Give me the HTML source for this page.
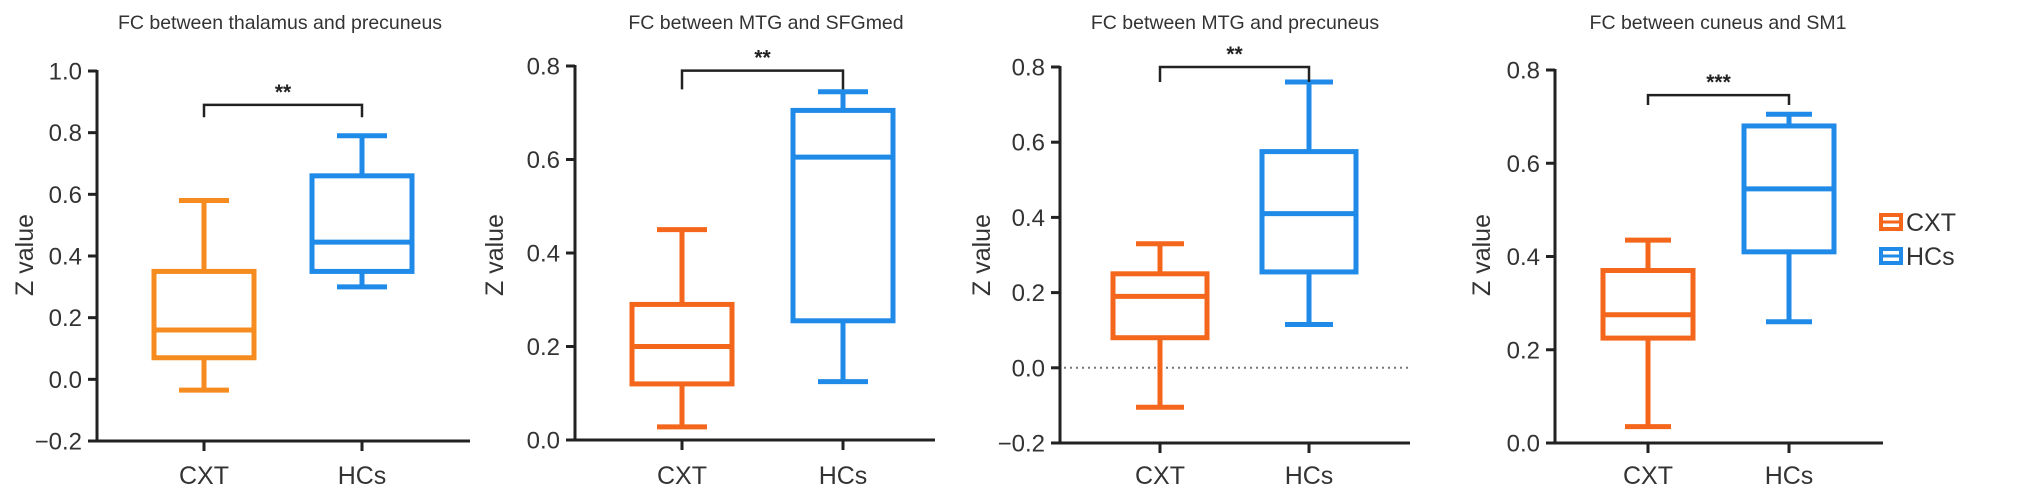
<!DOCTYPE html>
<html><head><meta charset="utf-8"><style>
html,body{margin:0;padding:0;background:#fff;}
svg{display:block;font-family:"Liberation Sans",Arial,sans-serif;}
</style></head><body>
<svg id="fig" width="2032" height="496" viewBox="0 0 2032 496"></svg>
<script>
const titles = ["FC between thalamus and precuneus","FC between MTG and SFGmed","FC between MTG and precuneus","FC between cuneus and SM1"];
const categories = ["CXT","HCs"];
const stars = ["**","**","**","***"];
// [min,q1,median,q3,max]
const cxtStats = [[-0.035,0.07,0.16,0.35,0.58],[0.028,0.12,0.2,0.29,0.45],[-0.105,0.08,0.19,0.25,0.33],[0.035,0.225,0.275,0.37,0.435]];
const hcsStats = [[0.30,0.35,0.445,0.66,0.79],[0.125,0.255,0.605,0.705,0.745],[0.115,0.255,0.41,0.575,0.76],[0.26,0.41,0.545,0.68,0.705]];
const yMin = [-0.2,0,-0.2,0];
const yMax = [1.0,0.8,0.8,0.8];
const yTicks = [["−0.2","0.0","0.2","0.4","0.6","0.8","1.0"],["0.0","0.2","0.4","0.6","0.8"],["−0.2","0.0","0.2","0.4","0.6","0.8"],["0.0","0.2","0.4","0.6","0.8"]];
const tickValues = [[-0.2,0,0.2,0.4,0.6,0.8,1.0],[0,0.2,0.4,0.6,0.8],[-0.2,0,0.2,0.4,0.6,0.8],[0,0.2,0.4,0.6,0.8]];
const bracketTop = [0.89,0.79,0.8,0.746];
const bracketLeg = [0.85,0.75,0.76,0.725];
const zeroLine = [false,false,true,false];

const layout = [
 {ax:97,ay0:441,ay1:71,xEnd:470,cx:[204,362],hw:50,cap:25,tx:280,yt:25,orange:"#F68B1F"},
 {ax:575,ay0:440,ay1:66,xEnd:935,cx:[682,843],hw:50,cap:25,tx:766,yt:495,orange:"#F4661B"},
 {ax:1060,ay0:443,ay1:67,xEnd:1410,cx:[1160,1309],hw:47,cap:24,tx:1235,yt:982,orange:"#F4661B"},
 {ax:1555,ay0:443,ay1:70,xEnd:1883,cx:[1648,1789],hw:45,cap:23,tx:1718,yt:1482,orange:"#F4661B"}
];
const blue = "#1F8AE8";
const NS = "http://www.w3.org/2000/svg";
const svg = document.getElementById('fig');
function mk(tag, attrs, parent){const e=document.createElementNS(NS,tag);for(const k in attrs)e.setAttribute(k,attrs[k]);(parent||svg).appendChild(e);return e;}

for(let p=0;p<4;p++){
  const L=layout[p];
  const g=mk('g',{});
  
  
  const y=v=>L.ay0-(v-yMin[p])/(yMax[p]-yMin[p])*(L.ay0-L.ay1);
  const t=mk('text',{x:L.tx,y:29,'text-anchor':'middle','font-size':19.5,fill:'#333'},g);
  t.textContent=titles[p];
  
  
  const ya=mk('line',{x1:L.ax,y1:L.ay1-1,x2:L.ax,y2:L.ay0+1.5,stroke:'#222','stroke-width':3},g);
  
  
  const xa=mk('line',{x1:L.ax-1.5,y1:L.ay0,x2:L.xEnd,y2:L.ay0,stroke:'#222','stroke-width':3},g);
  
  
  for(let i=0;i<tickValues[p].length;i++){
    const yy=y(tickValues[p][i]);
    mk('line',{x1:L.ax-9,y1:yy,x2:L.ax,y2:yy,stroke:'#222','stroke-width':3},g);
    const tl=mk('text',{x:L.ax-15,y:yy+8.5,'text-anchor':'end','font-size':24,fill:'#333'},g);
    tl.textContent=yTicks[p][i];
    
    
  }
  const yt=mk('text',{x:L.yt,y:255,'text-anchor':'middle','font-size':25,fill:'#333',transform:`rotate(-90 ${L.yt} 255)`,'dominant-baseline':'central'},g);
  yt.textContent='Z value';
  
  
  if(zeroLine[p]){
    const zl=mk('line',{x1:L.ax+4,y1:y(0),x2:L.xEnd,y2:y(0),stroke:'#777','stroke-width':2,'stroke-dasharray':'2 4'},g);
    
    
  }
  const stats=[cxtStats[p],hcsStats[p]];
  const cols=[L.orange,blue];
  for(let c=0;c<2;c++){
    const x=L.cx[c], s=stats[c], col=cols[c];
    mk('line',{x1:x,y1:L.ay0,x2:x,y2:L.ay0+10,stroke:'#222','stroke-width':3},g);
    const cl=mk('text',{x:x,y:484,'text-anchor':'middle','font-size':25,fill:'#333'},g);
    cl.textContent=categories[c];
    
    
    const bg=mk('g',{stroke:col,'stroke-width':5,fill:'none'},g);
    
    
    mk('line',{x1:x,y1:y(s[0]),x2:x,y2:y(s[1])},bg);
    mk('line',{x1:x,y1:y(s[3]),x2:x,y2:y(s[4])},bg);
    mk('line',{x1:x-L.cap,y1:y(s[0]),x2:x+L.cap,y2:y(s[0])},bg);
    mk('line',{x1:x-L.cap,y1:y(s[4]),x2:x+L.cap,y2:y(s[4])},bg);
    mk('rect',{x:x-L.hw,y:y(s[3]),width:2*L.hw,height:y(s[1])-y(s[3])},bg);
    mk('line',{x1:x-L.hw,y1:y(s[2]),x2:x+L.hw,y2:y(s[2])},bg);
  }
  const bt=y(bracketTop[p]), bl=y(bracketLeg[p]);
  const br=mk('polyline',{points:`${L.cx[0]},${bl} ${L.cx[0]},${bt} ${L.cx[1]},${bt} ${L.cx[1]},${bl}`,fill:'none',stroke:'#222','stroke-width':2.5},g);
  
  
  const st=mk('text',{x:(L.cx[0]+L.cx[1])/2,y:bt-6,'text-anchor':'middle','font-size':21,'font-weight':'bold',fill:'#222'},g);
  st.textContent=stars[p];
  
  
}
const lg=mk('g',{});


const lcols=[layout[1].orange,blue];
const ly=[222,256];
for(let i=0;i<2;i++){
  const e=mk('g',{},lg);
  
  
  mk('rect',{x:1881,y:ly[i]-7,width:20,height:14,fill:'none',stroke:lcols[i],'stroke-width':4},e);
  mk('line',{x1:1881,y1:ly[i],x2:1901,y2:ly[i],stroke:lcols[i],'stroke-width':3},e);
  const tx=mk('text',{x:1906,y:ly[i]+9,'font-size':25,fill:'#333'},e);
  tx.textContent=categories[i];
}
</script>
</body></html>
